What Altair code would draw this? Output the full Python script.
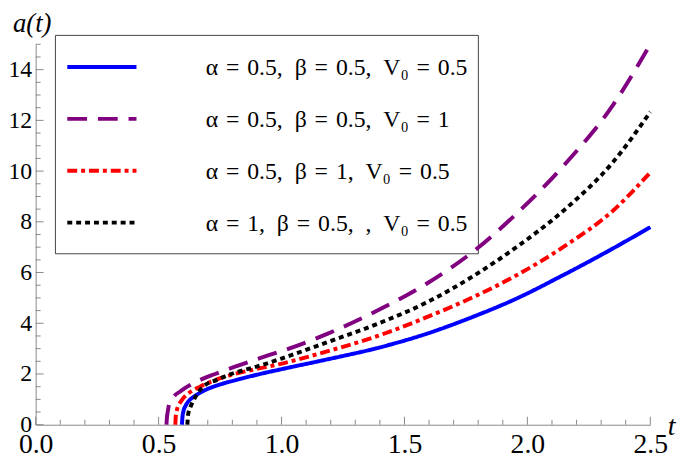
import altair as alt
import pandas as pd

# ---- data ----
EQ = "\u2004=\u2004"
SP = ",\u2002"
series_names = [
    "α" + EQ + "0.5" + SP + "β" + EQ + "0.5" + SP + "V₀" + EQ + "0.5",
    "α" + EQ + "0.5" + SP + "β" + EQ + "0.5" + SP + "V₀" + EQ + "1",
    "α" + EQ + "0.5" + SP + "β" + EQ + "1" + SP + "V₀" + EQ + "0.5",
    "α" + EQ + "1" + SP + "β" + EQ + "0.5" + SP + "," + "\u2002" + "V₀" + EQ + "0.5",
]
series_colors = ["#0000ff", "#800080", "#ff0000", "#000000"]
series_dashes = [[1, 0], [20, 11], [10, 4, 4, 4], [5, 4]]

t_blue = [0.595, 0.597, 0.601, 0.61, 0.621, 0.637, 0.655, 0.69, 0.735, 0.815, 0.895, 1.0, 1.188, 1.388, 1.588, 1.788, 1.948, 2.148, 2.348, 2.5]
a_blue = [0.0, 0.30, 0.53, 0.75, 0.92, 1.06, 1.18, 1.37, 1.54, 1.76, 1.96, 2.19, 2.58, 3.02, 3.58, 4.29, 4.94, 5.91, 6.95, 7.79]

t_purple = [0.532, 0.534, 0.537, 0.541, 0.55, 0.565, 0.588, 0.62, 0.668, 0.73, 0.808, 0.948, 1.048, 1.188, 1.388, 1.588, 1.788, 1.948, 2.148, 2.348, 2.5]
a_purple = [0.0, 0.30, 0.50, 0.73, 0.95, 1.15, 1.31, 1.52, 1.76, 2.0, 2.28, 2.74, 3.06, 3.59, 4.49, 5.55, 6.89, 8.25, 10.22, 12.6, 15.0]

t_red = [0.568, 0.570, 0.575, 0.586, 0.601, 0.63, 0.668, 0.73, 0.801, 0.89, 0.988, 1.188, 1.388, 1.588, 1.788, 1.948, 2.148, 2.348, 2.5]
a_red = [0.0, 0.35, 0.60, 0.85, 1.05, 1.30, 1.50, 1.76, 1.98, 2.18, 2.38, 2.90, 3.49, 4.23, 5.07, 5.85, 7.02, 8.44, 9.95]

t_black = [0.617, 0.619, 0.622, 0.628, 0.64, 0.655, 0.681, 0.735, 0.801, 0.895, 1.0, 1.188, 1.388, 1.588, 1.788, 1.948, 2.148, 2.348, 2.5]
a_black = [0.0, 0.32, 0.50, 0.66, 0.92, 1.18, 1.50, 1.76, 2.02, 2.28, 2.61, 3.26, 3.97, 4.81, 5.91, 6.95, 8.45, 10.35, 12.33]

x_major = [0.0, 0.5, 1.0, 1.5, 2.0, 2.5]
x_minor = [round(i * 0.1, 1) for i in range(26) if i % 5 != 0]
y_major = [0, 2, 4, 6, 8, 10, 12, 14]
y_minor = [i * 0.5 for i in range(31) if i % 4 != 0]

# ---- tables ----
rows = []
for name, ts, as_ in zip(series_names, [t_blue, t_purple, t_red, t_black],
                         [a_blue, a_purple, a_red, a_black]):
    for t, a in zip(ts, as_):
        rows.append({"series": name, "t": t, "a": a})
df = pd.DataFrame(rows)

W, H = 622, 385
FONT = "Liberation Serif"
TICK = "#888888"

xs = alt.Scale(domain=[0, 2.5], nice=False, zero=False)
ys = alt.Scale(domain=[0, 15], nice=False, zero=False)

x_axis = alt.Axis(values=x_major, format=".1f", ticks=False, grid=False,
                  labelFont=FONT, labelFontSize=28, labelColor="black",
                  labelPadding=6, domainColor=TICK, title="t",
                  titleFont=FONT, titleFontStyle="italic", titleFontWeight="normal",
                  titleFontSize=28, titleX=643, titleY=10, titleAlign="center",
                  titleBaseline="alphabetic", labelFlush=False)
y_axis = alt.Axis(values=y_major, format="d", ticks=False, grid=False,
                  labelFont=FONT, labelFontSize=24, labelColor="black",
                  labelPadding=4, domainColor=TICK, title="a(t)",
                  titleFont=FONT, titleFontStyle="italic", titleFontWeight="normal",
                  titleFontSize=27, titleAngle=0, titleX=-4, titleY=-13,
                  titleAlign="center", titleBaseline="alphabetic", labelFlush=False)

one = pd.DataFrame({"k": [0]})

# legend box
box = alt.Chart(one).mark_rect(fill="white", stroke="#444444", strokeWidth=1).encode(
    x=alt.value(20), x2=alt.value(448), y=alt.value(-9), y2=alt.value(212))

legend_layers = []
for i, (name, col, dash) in enumerate(zip(series_names, series_colors, series_dashes)):
    yy = 23 + 52.5 * i
    legend_layers.append(
        alt.Chart(one).mark_rule(color=col, strokeWidth=4, strokeDash=dash, strokeCap="butt").encode(
            x=alt.value(32), x2=alt.value(102), y=alt.value(yy)))
    legend_layers.append(
        alt.Chart(one).mark_text(align="left", baseline="middle", font=FONT, fontSize=24,
                                 color="black").encode(
            x=alt.value(172), y=alt.value(yy + 1), text=alt.value(name)))

# ticks (drawn inward)
xmaj = alt.Chart(pd.DataFrame({"v": x_major})).mark_rule(color=TICK, strokeWidth=1).encode(
    x=alt.X("v:Q", scale=xs), y=alt.value(H), y2=alt.value(H - 8))
xmin = alt.Chart(pd.DataFrame({"v": x_minor})).mark_rule(color=TICK, strokeWidth=1).encode(
    x=alt.X("v:Q", scale=xs), y=alt.value(H), y2=alt.value(H - 5))
ymaj = alt.Chart(pd.DataFrame({"v": y_major})).mark_rule(color=TICK, strokeWidth=1).encode(
    y=alt.Y("v:Q", scale=ys), x=alt.value(0), x2=alt.value(8))
ymin = alt.Chart(pd.DataFrame({"v": y_minor})).mark_rule(color=TICK, strokeWidth=1).encode(
    y=alt.Y("v:Q", scale=ys), x=alt.value(0), x2=alt.value(5))

lines = alt.Chart(df).mark_line(strokeWidth=4, interpolate="monotone", strokeCap="butt").encode(
    x=alt.X("t:Q", scale=xs, axis=x_axis),
    y=alt.Y("a:Q", scale=ys, axis=y_axis),
    color=alt.Color("series:N", scale=alt.Scale(domain=series_names, range=series_colors), legend=None),
    strokeDash=alt.StrokeDash("series:N", scale=alt.Scale(domain=series_names, range=series_dashes), legend=None),
    order=alt.Order("t:Q"),
)

chart = alt.layer(box, *legend_layers, xmaj, xmin, ymaj, ymin, lines).properties(
    width=W, height=H,
    autosize=alt.AutoSizeParams(type="none"),
    padding={"left": 28, "top": 34, "right": 27, "bottom": 34},
    background="white",
).configure_view(stroke=None)

chart.save("out.html", embed_options={"renderer": "svg", "actions": False})
